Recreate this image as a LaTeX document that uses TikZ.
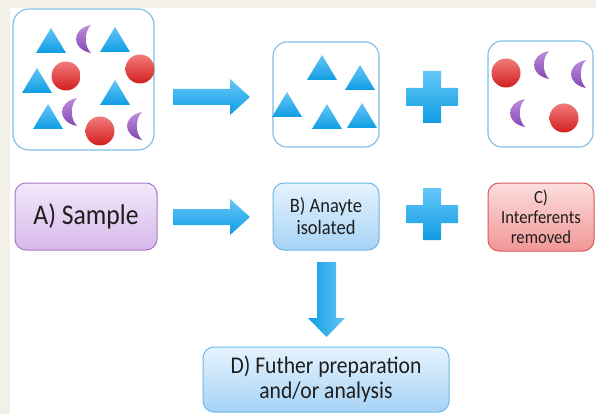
\documentclass[tikz,border=0pt]{standalone}
\usepackage{fontspec}
\setmainfont{Carlito}[FakeStretch=0.9]
\usetikzlibrary{calc}
\definecolor{bgbeige}{HTML}{F3F0EA}
\definecolor{frameblue}{HTML}{7BBDE6}
\definecolor{shapetop}{HTML}{66C6F8}
\definecolor{shapebot}{HTML}{0E9DE3}
\definecolor{redtop}{HTML}{F27B7B}
\definecolor{redbot}{HTML}{D21E1E}
\definecolor{moontop}{HTML}{BC8EDC}
\definecolor{moonbot}{HTML}{8448B4}
\definecolor{purpletop}{HTML}{F3E8FA}
\definecolor{purplebot}{HTML}{D6B8EA}
\definecolor{purpleedge}{HTML}{A678C9}
\definecolor{bluetop}{HTML}{E6F3FE}
\definecolor{bluebot}{HTML}{A6D3F5}
\definecolor{blueedge}{HTML}{6BB7E6}
\definecolor{pinktop}{HTML}{FCDDDD}
\definecolor{pinkbot}{HTML}{F29696}
\definecolor{pinkedge}{HTML}{D85A5A}
\definecolor{txt}{HTML}{1E1E1E}
\tikzset{
  framebox/.style={draw=frameblue, line width=1.1pt, fill=white, rounded corners=16pt, inner sep=0pt},
  stagebox/.style={line width=1pt, rounded corners=11pt, inner sep=0pt, align=center, text=txt},
  purplebox/.style={stagebox, draw=purpleedge, top color=purpletop, bottom color=purplebot},
  bluebox/.style={stagebox, draw=blueedge, top color=bluetop, bottom color=bluebot},
  pinkbox/.style={stagebox, draw=pinkedge, top color=pinktop, bottom color=pinkbot},
  blueshape/.style={top color=shapetop, bottom color=shapebot},
  redshape/.style={top color=redtop, bottom color=redbot},
  moonshape/.style={top color=moontop, bottom color=moonbot},
}
\newcommand{\mytri}[2]{\shade[blueshape] (#1-15,#2) -- (#1,#2-25) -- (#1+15,#2) -- cycle;}
\newcommand{\myball}[2]{\shade[redshape] (#1,#2) circle[radius=14.5];}
\newcommand{\mymoon}[2]{\shade[moonshape] (#1+6,#2-14) .. controls (#1-14,#2-10) and (#1-14,#2+10) .. (#1+6,#2+14) .. controls (#1-1,#2+7) and (#1-1,#2-7) .. (#1+6,#2-14) -- cycle;}
\newcommand{\myplus}[2]{\shade[blueshape] (#1-9,#2-26) -- (#1+9,#2-26) -- (#1+9,#2-9) -- (#1+26,#2-9) -- (#1+26,#2+9) -- (#1+9,#2+9) -- (#1+9,#2+26) -- (#1-9,#2+26) -- (#1-9,#2+9) -- (#1-26,#2+9) -- (#1-26,#2-9) -- (#1-9,#2-9) -- cycle;}
\newcommand{\myrarrow}[3]{\shade[blueshape] (#1,#3-8) -- (#2-20,#3-8) -- (#2-20,#3-18) -- (#2,#3) -- (#2-20,#3+18) -- (#2-20,#3+8) -- (#1,#3+8) -- cycle;}
\begin{document}
\begin{tikzpicture}[x=1pt,y=-1pt]
\useasboundingbox (0,0) rectangle (596,414);
\fill[bgbeige] (0,0) rectangle (596,414);
\fill[white] (10,8) rectangle (596,414);
% picture frames
\node[framebox, minimum width=141pt, minimum height=141pt] (mix) at (83.5,79.5) {};
\node[framebox, minimum width=106pt, minimum height=105pt, rounded corners=14pt] (iso) at (326,94.5) {};
\node[framebox, minimum width=105pt, minimum height=106pt, rounded corners=14pt] (rem) at (540.5,94) {};
% sample contents
\mytri{51}{53}\mytri{115}{52}\mytri{37}{93}\mytri{115}{105}\mytri{48}{129}
\myball{66}{76}\myball{140}{69}\myball{100}{131}
\mymoon{85}{39}\mymoon{71}{112}\mymoon{136}{126}
% analyte
\mytri{322}{80}\mytri{360}{90}\mytri{287}{117}\mytri{327}{129}\mytri{362}{128}
% interferents
\myball{506}{73}\myball{564}{118}
\mymoon{543}{65}\mymoon{580}{74}\mymoon{519}{113}
% arrows and plus signs
\myrarrow{173}{250}{97}
\myplus{432}{97}
\myrarrow{173}{250}{217}
\myplus{432}{214}
% stage boxes
\node[purplebox, minimum width=142pt, minimum height=67pt, font=\fontsize{28.5}{32}\selectfont] (a) at (86,216.5) {A) Sample};
\node[bluebox, minimum width=106pt, minimum height=67pt, font=\fontsize{20.5}{22}\selectfont] (b) at (326,216.5) {B) Anayte\\isolated};
\node[pinkbox, minimum width=106pt, minimum height=68pt, font=\fontsize{18.5}{20}\selectfont] (c) at (541,217) {C)\\Interferents\\removed};
\node[bluebox, minimum width=246pt, minimum height=65pt, font=\fontsize{24}{25}\selectfont] (d) at (326,379.5) {D) Futher preparation\\and/or analysis};
% down arrow
\shade[left color=shapebot, right color=shapetop] (317,262) -- (336,262) -- (336,318) -- (345,318) -- (326.5,337) -- (308,318) -- (317,318) -- cycle;
\end{tikzpicture}
\end{document}
